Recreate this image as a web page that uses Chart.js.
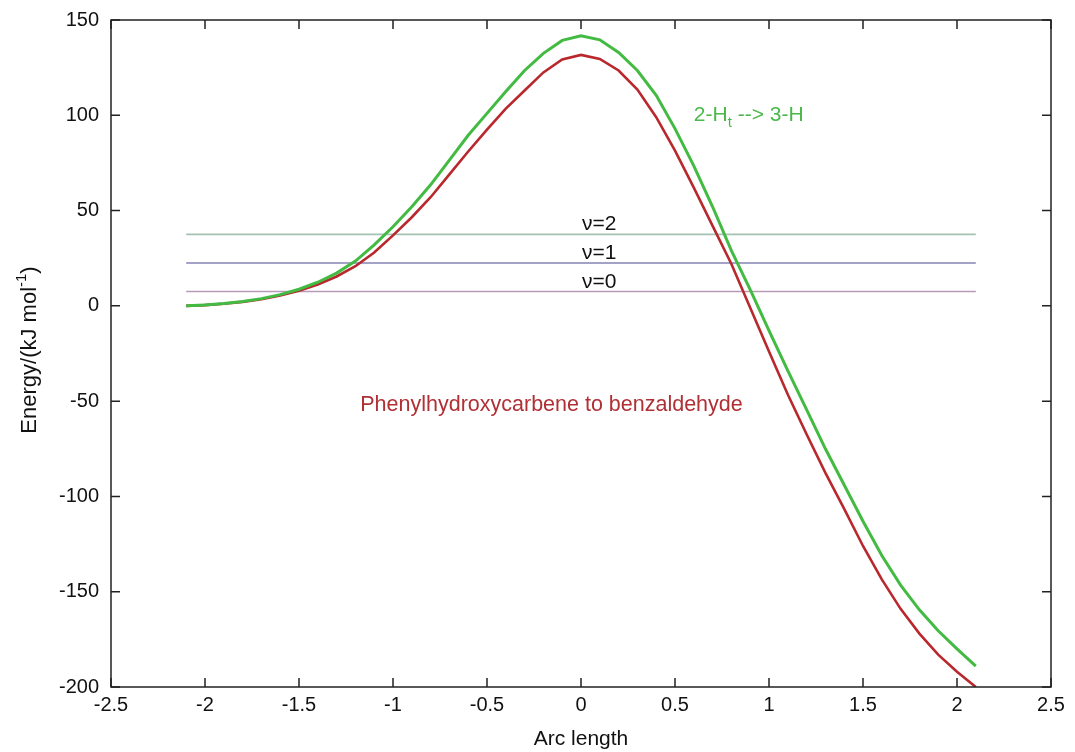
<!DOCTYPE html>
<html>
<head>
<meta charset="utf-8">
<script src="https://cdn.jsdelivr.net/npm/chart.js@4.4.0/dist/chart.umd.min.js"></script>
<style>
  html, body { margin: 0; padding: 0; background: #fff; }
  #wrap { width: 1075px; height: 752px; }
</style>
</head>
<body>
<div id="wrap"><canvas id="chart"></canvas></div>
<script>
// arc length samples
const arcLength = [
  -2.1, -2.0, -1.9, -1.8, -1.7, -1.6, -1.5, -1.4, -1.3, -1.2, -1.1,
  -1.0, -0.9, -0.8, -0.7, -0.6, -0.5, -0.4, -0.3, -0.2, -0.1,
  0.0, 0.1, 0.2, 0.3, 0.4, 0.5, 0.6, 0.7, 0.8, 0.9, 1.0,
  1.1, 1.2, 1.3, 1.4, 1.5, 1.6, 1.7, 1.8, 1.9, 2.0, 2.1
];

// 2-Ht --> 3-H (green)
const energyHt = [
  0, 0.5, 1.2, 2.3, 3.8, 5.9, 8.7, 12.4, 17.2, 23.5, 32,
  41.5, 52, 63.5, 76.5, 89.5, 101, 112.5, 123.5, 132.5, 139.3,
  141.7, 139.6, 133, 123.5, 110.5, 93, 73.5, 52, 29, 8.5, -13,
  -34, -54.5, -75, -94, -113, -131, -146.5, -159.5, -170.5, -180, -189
];

// phenylhydroxycarbene to benzaldehyde (red)
const energyPhc = [
  0, 0.4, 1.1, 2.1, 3.5, 5.4, 7.9, 11.2, 15.4, 20.8, 28,
  37, 46.5, 57, 69, 81, 92.5, 103.5, 113, 122.5, 129.3,
  131.7, 129.6, 123.5, 113.5, 99, 81.5, 62, 42, 22, -1, -24,
  -46.5, -67.4, -87.6, -106.5, -126, -143.5, -159, -172, -183, -192, -200
];

// vibrational levels
const levelNames = ["\u03bd=0", "\u03bd=1", "\u03bd=2"];
const levelEnergy = [7.5, 22.5, 37.5];
const levelColors = ["#b89ab8", "#8585b8", "#a3c2b3"];
const levelRange = [-2.1, 2.1];

const xTicks = [-2.5, -2, -1.5, -1, -0.5, 0, 0.5, 1, 1.5, 2, 2.5];
const yTicks = [150, 100, 50, 0, -50, -100, -150, -200];

const font = "'Liberation Sans', Arial, Helvetica, sans-serif";

function toPoints(xs, ys) {
  return xs.map((x, i) => ({ x: x, y: ys[i] }));
}

const datasets = [
  {
    label: "2-Ht --> 3-H",
    data: toPoints(arcLength, energyHt),
    borderColor: "#43bb43",
    borderWidth: 3,
  },
  {
    label: "Phenylhydroxycarbene to benzaldehyde",
    data: toPoints(arcLength, energyPhc),
    borderColor: "#b8282d",
    borderWidth: 2.6,
  },
];

for (let i = 0; i < levelEnergy.length; i++) {
  datasets.push({
    label: levelNames[i],
    data: levelRange.map((x) => ({ x: x, y: levelEnergy[i] })),
    borderColor: levelColors[i],
    borderWidth: 1.6,
  });
}

// frame with inward ticks on all four sides, plus the text labels
const framePlugin = {
  id: "frame",
  afterDraw(chart) {
    const ctx = chart.ctx;
    const a = chart.chartArea;
    const xs = chart.scales.x;
    const ys = chart.scales.y;
    const tick = 9;

    ctx.save();
    ctx.strokeStyle = "#222";
    ctx.lineWidth = 1.5;
    ctx.strokeRect(a.left, a.top, a.right - a.left, a.bottom - a.top);
    ctx.beginPath();
    xTicks.forEach((v) => {
      const px = xs.getPixelForValue(v);
      ctx.moveTo(px, a.bottom); ctx.lineTo(px, a.bottom - tick);
      ctx.moveTo(px, a.top); ctx.lineTo(px, a.top + tick);
    });
    yTicks.forEach((v) => {
      const py = ys.getPixelForValue(v);
      ctx.moveTo(a.left, py); ctx.lineTo(a.left + tick, py);
      ctx.moveTo(a.right, py); ctx.lineTo(a.right - tick, py);
    });
    ctx.stroke();

    // y axis title with a real superscript
    ctx.save();
    ctx.fillStyle = "#111";
    ctx.textBaseline = "middle";
    ctx.textAlign = "left";
    ctx.translate(30, 350);
    ctx.rotate(-Math.PI / 2);
    const parts = [["Energy/(kJ mol", 22, 0], ["-1", 15, -8], [")", 22, 0]];
    let total = 0;
    parts.forEach((p) => { ctx.font = p[1] + "px " + font; total += ctx.measureText(p[0]).width; });
    let tx = -total / 2;
    parts.forEach((p) => {
      ctx.font = p[1] + "px " + font;
      ctx.fillText(p[0], tx, p[2]);
      tx += ctx.measureText(p[0]).width;
    });
    ctx.restore();

    // level labels
    ctx.fillStyle = "#111";
    ctx.font = "21px " + font;
    ctx.textAlign = "left";
    ctx.textBaseline = "alphabetic";
    for (let i = 0; i < levelEnergy.length; i++) {
      ctx.fillText(levelNames[i], xs.getPixelForValue(0.005), ys.getPixelForValue(levelEnergy[i]) - 4);
    }

    // 2-Ht --> 3-H
    ctx.fillStyle = "#4cb84c";
    ctx.textBaseline = "middle";
    let gx = xs.getPixelForValue(0.6);
    const gy = ys.getPixelForValue(100);
    ctx.font = "21px " + font;
    ctx.fillText("2-H", gx, gy);
    gx += ctx.measureText("2-H").width;
    ctx.font = "15px " + font;
    ctx.fillText("t", gx, gy + 8);
    gx += ctx.measureText("t").width;
    ctx.font = "21px " + font;
    ctx.fillText(" --> 3-H", gx, gy);

    // reaction label
    ctx.fillStyle = "#b03035";
    ctx.textAlign = "center";
    ctx.font = "21.5px " + font;
    ctx.fillText("Phenylhydroxycarbene to benzaldehyde", xs.getPixelForValue(-0.157), ys.getPixelForValue(-52));
    ctx.restore();
  },
};

const config = {
  type: "line",
  data: { datasets: datasets },
  options: {
    responsive: false,
    animation: false,
    devicePixelRatio: 1,
    layout: { padding: { left: 0, right: 24, top: 20, bottom: 0 } },
    elements: { point: { radius: 0 }, line: { tension: 0 } },
    plugins: { legend: { display: false }, tooltip: { enabled: false } },
    scales: {
      x: {
        type: "linear",
        min: -2.5,
        max: 2.5,
        afterBuildTicks: (scale) => { scale.ticks = xTicks.map((v) => ({ value: v })); },
        grid: { display: false, drawTicks: false },
        border: { display: false },
        ticks: { color: "#111", font: { family: font, size: 20 }, padding: 6, maxRotation: 0, callback: (v) => String(v) },
        title: { display: true, text: "Arc length", color: "#111", font: { family: font, size: 21 }, padding: { top: 0, bottom: 0 } },
        afterFit: (scale) => { scale.height = 65; },
      },
      y: {
        min: -200,
        max: 150,
        afterBuildTicks: (scale) => { scale.ticks = yTicks.map((v) => ({ value: v })); },
        grid: { display: false, drawTicks: false },
        border: { display: false },
        ticks: { color: "#111", font: { family: font, size: 20, lineHeight: 0.6 }, padding: 12, callback: (v) => String(v) },
        title: { display: false },
        afterFit: (scale) => { scale.width = 111; },
      },
    },
  },
  plugins: [framePlugin],
};

const canvas = document.getElementById("chart");
canvas.width = 1075;
canvas.height = 752;
new Chart(canvas, config);
</script>
</body>
</html>
